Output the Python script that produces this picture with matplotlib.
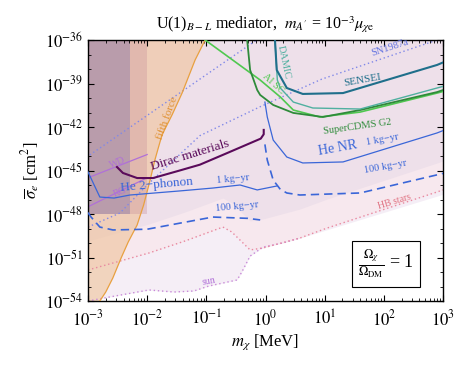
import numpy as np
import matplotlib
matplotlib.use("Agg")
import matplotlib.pyplot as plt
from matplotlib.ticker import LogLocator, NullFormatter, FixedLocator, FuncFormatter

plt.rcParams['font.family'] = ['Liberation Serif', 'DejaVu Serif']
plt.rcParams['mathtext.fontset'] = 'stix'

# ---------------- data (log10 m [MeV], log10 sigma [cm^2]) ----------------
fifth_logm = [-1.02, -1.19, -1.41, -1.58, -1.75, -1.87, -1.95, -2.06, -2.17, -2.32, -2.44, -2.58, -2.70, -2.80]
fifth_logs = [-36.0, -37.38, -39.66, -41.17, -42.55, -44.28, -45.66, -47.38, -48.76, -49.93, -51.03, -52.41, -53.38, -54.0]

band1_logm = -2.0     # m < 1e-2 MeV
band2_logm = -2.29    # m < 5e-3 MeV

sun_logm = [-3.0, -2.63, -1.97, -1.55, -1.21, -0.96, -0.48, -0.40, -0.26, -0.04, 0.29, 0.58]
sun_logs = [-54.0, -53.72, -53.24, -53.38, -53.31, -52.97, -52.55, -52.0, -50.9, -50.28, -50.0, -49.66]

hb_logm = [-3.0, -1.97, -1.36, -0.72, -0.57, -0.26, -0.04, 0.58, 1.04, 2.90, 3.0]
hb_logs = [-51.86, -50.69, -49.86, -48.90, -49.24, -50.48, -50.34, -49.66, -48.97, -46.48, -46.34]

snlo_logm = [-3.0, -2.46, -2.0, -1.11, -0.09, 0.95, 2.90]
snlo_logs = [-48.9, -47.93, -46.0, -42.6, -40.6, -38.7, -36.0]
snhi_logm = [-2.97, -0.15]
snhi_logs = [-43.93, -36.0]

wd_logm = [-3.0, -2.0]
wd_logs = [-45.5, -43.9]
rg_logm = [-3.0, -2.0]
rg_logs = [-47.5, -45.5]

dirac_logm = [-2.51, -2.41, -2.17, -1.90, -1.45, -1.11, -0.65, -0.08, -0.03, -0.03]
dirac_logs = [-44.76, -45.17, -45.52, -45.52, -45.0, -44.6, -43.8, -42.8, -42.5, -42.2]

albsc_logm = [-1.02, -0.09, 0.25, 0.47, 0.92, 1.60, 2.90, 3.0]
albsc_logs = [-36.0, -38.76, -39.93, -40.83, -41.31, -40.97, -39.66, -39.55]

cdms_logm = [-0.31, -0.26, -0.14, -0.09, 0.13, 0.47, 0.97, 1.60, 2.90, 3.0]
cdms_logs = [-36.0, -38.07, -39.45, -39.79, -40.48, -41.03, -41.31, -40.83, -39.59, -39.45]

sensei_logm = [0.16, 0.19, 0.36, 0.63, 1.31, 2.90, 3.0]
sensei_logs = [-36.0, -38.07, -39.31, -39.72, -39.66, -37.72, -37.55]

damic_logm = [0.16, 0.20, 0.25, 0.47, 0.80, 1.60, 2.90, 3.0]
damic_logs = [-36.0, -38.76, -39.31, -40.28, -40.69, -40.76, -39.31, -39.2]

henr1_logm = [-0.01, 0.03, 0.13, 0.36, 0.63, 1.31, 2.90, 3.0]
henr1_logs = [-40.28, -41.31, -42.90, -44.07, -44.48, -44.41, -42.41, -42.25]

henr100_logm = [-0.01, 0.03, 0.13, 0.25, 0.36, 0.58, 1.60, 2.90, 3.0]
henr100_logs = [-43.2, -44.28, -45.66, -46.3, -46.55, -46.69, -46.55, -45.3, -45.2]

he2p1_logm = [-3.0, -2.80, -2.56, -2.29, -1.45, -0.89, -0.43, -0.14, 0.19]
he2p1_logs = [-45.10, -46.83, -46.90, -46.69, -46.41, -46.21, -46.0, -46.34, -46.07]

he2p100_logm = [-3.0, -2.95, -2.80, -2.58, -2.0, -0.89, -0.3, -0.09]
he2p100_logs = [-47.9, -48.2, -48.90, -49.1, -49.05, -48.21, -48.3, -48.41]

# ---------------- figure ----------------
fig = plt.figure(figsize=(4.54, 3.66), dpi=100)
ax = fig.add_axes([88/454, 1-301/366, 355/454, 261/366])
ax.set_xscale('log'); ax.set_yscale('log')
xmin, xmax, ymin, ymax = 1e-3, 1e3, 1e-54, 1e-36
ax.set_xlim(xmin, xmax); ax.set_ylim(ymin, ymax)

def P(lm, ls):
    return 10**np.array(lm, float), 10**np.array(ls, float)

g = np.linspace(-3, 3, 600)
G = 10**g

# sun region
sun_ext = np.interp(g, sun_logm + [3.0], sun_logs + [hb_logs[-1] - 0.3])
ax.fill_between(G, 10**sun_ext, ymax, color='#f5eef6', lw=0, zorder=0)
# HB region
hb_g = np.interp(g, hb_logm, hb_logs)
ax.fill_between(G, 10**hb_g, ymax, color='#f7e8ee', lw=0, zorder=0.1)
# upper (SN etc.)
sn_g = np.interp(g, snlo_logm, snlo_logs, right=-36)
ax.fill_between(G, 10**np.maximum(np.minimum(sn_g, hb_g + 2.0), -54), ymax, color='#eee0ea', lw=0, zorder=0.15)

# fifth force
fm, fs = P(fifth_logm, fifth_logs)
ax.fill(np.r_[fm, xmin, xmin], np.r_[fs, ymin, ymax], color='#f0c49c', alpha=0.62, lw=0, zorder=0.5)
ax.plot(fm, fs, color='#e8a040', lw=0.9, zorder=3)

# low-mass bands
ax.fill_between([xmin, 10**band1_logm], 1e-48, ymax, color='#c8909a', alpha=0.35, lw=0, zorder=0.6)
ax.fill_between([xmin, 10**band2_logm], 1e-48, ymax, color='#8a7aa8', alpha=0.45, lw=0, zorder=0.7)

# stellar lines
ax.plot(*P(sun_logm, sun_logs), ls=(0, (1, 2)), color='#c88ad8', lw=1.0, zorder=2)
ax.plot(*P(hb_logm, hb_logs), ls=(0, (1, 2)), color='#e888a0', lw=1.0, zorder=2)
ax.plot(*P(snlo_logm, snlo_logs), ls=(0, (1, 2)), color='#8088e8', lw=1.0, zorder=2)
ax.plot(*P(snhi_logm, snhi_logs), ls=(0, (1, 2)), color='#8088e8', lw=1.0, zorder=2)
ax.plot(*P(wd_logm, wd_logs), color='#b070d8', lw=0.9, zorder=2)
ax.plot(*P(rg_logm, rg_logs), color='#b070d8', lw=0.9, zorder=2)

# direct detection
ax.plot(*P(albsc_logm, albsc_logs), color='#50c850', lw=1.2, zorder=4)
ax.plot(*P(cdms_logm, cdms_logs), color='#2e8b3a', lw=1.3, zorder=4)
ax.plot(*P(damic_logm, damic_logs), color='#50b0a0', lw=1.0, zorder=4)
ax.plot(*P(sensei_logm, sensei_logs), color='#1f6f8b', lw=1.5, zorder=4)
ax.plot(*P(dirac_logm, dirac_logs), color='#5a0a5a', lw=1.5, zorder=4)
ax.plot(*P(henr1_logm, henr1_logs), color='#3a66d8', lw=0.9, zorder=4)
ax.plot(*P(henr100_logm, henr100_logs), color='#3a66d8', lw=1.2, ls=(0, (5, 3)), zorder=4)
ax.plot(*P(he2p1_logm, he2p1_logs), color='#3a66d8', lw=0.9, zorder=4)
ax.plot(*P(he2p100_logm, he2p100_logs), color='#3a66d8', lw=1.2, ls=(0, (5, 3)), zorder=4)

# labels
def T(px, py, s, **kw):
    lm = -3 + (px - 88) / 59.17
    ls = -36 - (py - 40) / 14.5
    ax.text(10**lm, 10**ls, s, ha='center', va='center', zorder=6, **kw)

T(167, 118, 'fifth force', color='#e09030', fontsize=8, rotation=70)
T(118, 163, 'WD', color='#b070d8', fontsize=7, rotation=22)
T(120, 192, 'RG', color='#b070d8', fontsize=7, rotation=22)
T(190, 155, 'Dirac materials', color='#5a0a5a', fontsize=9.5, rotation=17)
T(157, 185, 'He 2\u2212phonon', color='#3a66d8', fontsize=9.5, rotation=5)
T(233, 179, '1 kg\u2212yr', color='#3a66d8', fontsize=7.5, rotation=5)
T(237, 207, '100 kg\u2212yr', color='#3a66d8', fontsize=7.5, rotation=5)
T(338, 148, 'He NR', color='#3a66d8', fontsize=10, rotation=10)
T(382, 140, '1 kg\u2212yr', color='#3a66d8', fontsize=7.5, rotation=10)
T(385, 167, '100 kg\u2212yr', color='#3a66d8', fontsize=7.5, rotation=10)
T(357, 127, 'SuperCDMS G2', color='#2e8b3a', fontsize=7.5, rotation=8)
T(362, 80, 'SENSEI', color='#1f6f8b', fontsize=8, rotation=10)
T(284, 62, 'DAMIC', color='#50b0a0', fontsize=7.5, rotation=-78)
T(273, 84, 'Al SC', color='#50c850', fontsize=7.5, rotation=-42)
T(390, 48, 'SN1987a', color='#6070e0', fontsize=7.5, rotation=18)
T(209, 281, 'sun', color='#b070d8', fontsize=7, rotation=10)
T(395, 202, 'HB stars', color='#e07080', fontsize=7, rotation=17)

ax.text((386 - 88) / 355, (301 - 264) / 261, r'$\frac{\Omega_\chi}{\Omega_{\rm DM}}$ = 1', transform=ax.transAxes,
        ha='center', va='center', fontsize=13, zorder=7,
        bbox=dict(boxstyle='square,pad=0.35', fc='white', ec='black', lw=0.8))

# axes styling
ax.xaxis.set_major_locator(LogLocator(base=10, numticks=20))
ax.xaxis.set_minor_locator(LogLocator(base=10, subs=np.arange(2, 10), numticks=20))
ax.xaxis.set_minor_formatter(NullFormatter())
ax.yaxis.set_major_locator(FixedLocator([10.0**e for e in range(-54, -35, 3)]))
ax.yaxis.set_minor_locator(FixedLocator([10.0**e for e in range(-54, -35)]))
ax.yaxis.set_minor_formatter(NullFormatter())
ax.yaxis.set_major_formatter(FuncFormatter(lambda v, p: r'$10^{%d}$' % round(np.log10(v))))
ax.xaxis.set_major_formatter(FuncFormatter(lambda v, p: r'$10^{%d}$' % round(np.log10(v))))
ax.tick_params(which='both', direction='in', top=True, right=True, labelsize=12)
ax.tick_params(axis='x', which='major', pad=6)
ax.tick_params(which='major', length=4, width=0.8)
ax.tick_params(which='minor', length=2, width=0.6)
for s in ax.spines.values():
    s.set_linewidth(1.0)

ax.set_xlabel(r'$m_\chi$ [MeV]', fontsize=12, labelpad=2)
ax.set_ylabel(r'$\overline{\sigma}_e$ [cm$^2$]', fontsize=12, labelpad=2)
ax.set_title(r"U(1)$_{B-L}$ mediator,  $m_{A'}$ = 10$^{-3}\mu_{\chi \mathrm{e}}$", fontsize=11.5, pad=8)

fig.savefig('out.png', dpi=100)
